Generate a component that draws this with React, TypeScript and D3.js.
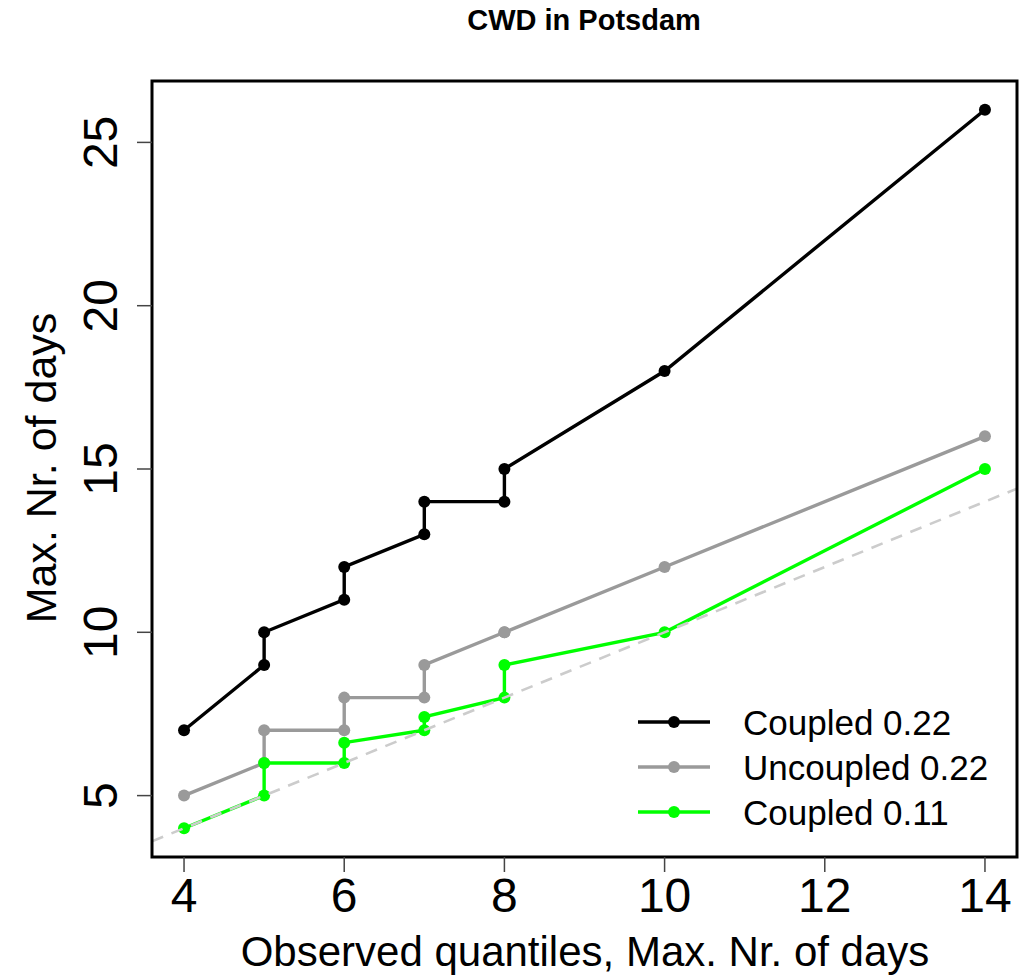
import React from "react";
import * as d3 from "d3";

const observedQuantiles = [4, 5, 5, 6, 6, 7, 7, 8, 8, 10, 14];
const coupled022 = [7, 9, 10, 11, 12, 13, 14, 14, 15, 18, 26];
const uncoupled022 = [5, 6, 7, 7, 8, 8, 9, 10, 10, 12, 16];
const coupled011 = [4, 5, 6, 6, 6.62, 7, 7.41, 8, 9, 10, 15];
const xTicks = [4, 6, 8, 10, 12, 14];
const yTicks = [5, 10, 15, 20, 25];
const seriesNames = ["Coupled 0.22", "Uncoupled 0.22", "Coupled 0.11"];
const seriesColors = ["#000000", "#9a9a9a", "#00ff00"];

const W = 1033;
const H = 978;
const L = 152, R = 1017, T = 81, B = 857;
const FONT = "'Liberation Sans', Arial, Helvetica, sans-serif";

export default function App() {
  const x = d3.scaleLinear().domain([3.6, 14.4]).range([L, R]);
  const y = d3.scaleLinear().domain([3.12, 26.88]).range([B, T]);
  const series = [coupled022, uncoupled022, coupled011];
  const line = d3
    .line<[number, number]>()
    .x((d) => x(d[0]))
    .y((d) => y(d[1]));
  const abX = [3.6, 14.4];

  return (
    <svg
      width={W}
      height={H}
      style={{ position: "absolute", left: 0, top: 0, background: "#fff" }}
      fontFamily={FONT}
    >
      <rect x={0} y={0} width={W} height={H} fill="#fff" />
      <text x={584} y={30} textAnchor="middle" fontSize={29} fontWeight="bold">
        CWD in Potsdam
      </text>

      {series.map((vals, si) => {
        const pts: [number, number][] = observedQuantiles.map((q, i) => [q, vals[i]]);
        return (
          <g key={si}>
            <path d={line(pts) || ""} fill="none" stroke={seriesColors[si]} strokeWidth={3.4} />
            {pts.map((p, i) => (
              <circle key={i} cx={x(p[0])} cy={y(p[1])} r={6} fill={seriesColors[si]} />
            ))}
          </g>
        );
      })}

      <clipPath id="plotclip">
        <rect x={L} y={T} width={R - L} height={B - T} />
      </clipPath>
      <line
        x1={x(abX[0])}
        y1={y(abX[0])}
        x2={x(abX[1])}
        y2={y(abX[1])}
        stroke="#cccccc"
        strokeWidth={2.6}
        strokeDasharray="12,9"
        clipPath="url(#plotclip)"
      />

      <rect x={L} y={T} width={R - L} height={B - T} fill="none" stroke="#000" strokeWidth={3} />

      {xTicks.map((t) => (
        <g key={t}>
          <line x1={x(t)} x2={x(t)} y1={B} y2={B + 15} stroke="#444" strokeWidth={1.5} />
          <text x={x(t)} y={912} textAnchor="middle" fontSize={48}>
            {t}
          </text>
        </g>
      ))}
      {yTicks.map((t) => (
        <g key={t}>
          <line x1={L} x2={L - 15} y1={y(t)} y2={y(t)} stroke="#444" strokeWidth={1.5} />
          <text
            transform={`translate(117,${y(t)}) rotate(-90)`}
            textAnchor="middle"
            fontSize={48}
          >
            {t}
          </text>
        </g>
      ))}

      <text x={585} y={966} textAnchor="middle" fontSize={42}>
        Observed quantiles, Max. Nr. of days
      </text>
      <text transform={`translate(56,468) rotate(-90)`} textAnchor="middle" fontSize={43}>
        Max. Nr. of days
      </text>

      {seriesNames.map((name, i) => {
        const cy = 722 + i * 45;
        return (
          <g key={name}>
            <line x1={638} x2={710} y1={cy} y2={cy} stroke={seriesColors[i]} strokeWidth={3.4} />
            <circle cx={674} cy={cy} r={6} fill={seriesColors[i]} />
            <text x={743} y={cy + 12.5} fontSize={35}>
              {name}
            </text>
          </g>
        );
      })}
    </svg>
  );
}
